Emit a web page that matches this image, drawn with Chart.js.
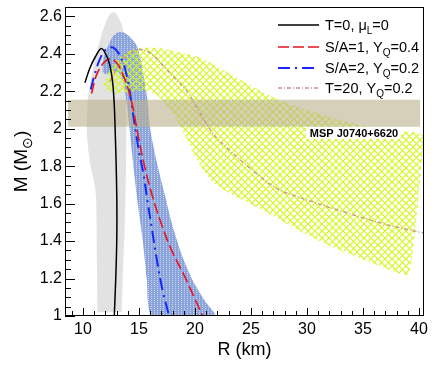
<!DOCTYPE html>
<html>
<head>
<meta charset="utf-8">
<script src="https://cdn.jsdelivr.net/npm/chart.js@4.4.1/dist/chart.umd.min.js"></script>
<style>
  html, body { margin: 0; padding: 0; background: #fff; }
  canvas { display: block; }
</style>
</head>
<body>
<canvas id="mr" width="436" height="372"></canvas>
<script>
// axis ticks
const xTicks = [10, 15, 20, 25, 30, 35, 40];
const yTicks = [1, 1.2, 1.4, 1.6, 1.8, 2, 2.2, 2.4, 2.6];

// M-R curves (R in km, M in Msun)
const t0R = [10.18, 10.6, 11.1, 11.65, 12.1, 12.4, 12.65, 12.8, 12.9, 12.97, 13.03, 13.02, 12.93, 12.8];
const t0M = [2.246, 2.32, 2.383, 2.428, 2.39, 2.34, 2.25, 2.125, 1.95, 1.8, 1.6, 1.4, 1.2, 1.0];

const sa1R = [10.77, 11.2, 11.8, 12.5, 13.1, 13.6, 14.0, 14.35, 14.6, 15.0, 15.5, 16.2, 17.1, 18.0, 19.1, 20.0, 20.7];
const sa1M = [2.188, 2.285, 2.348, 2.374, 2.345, 2.285, 2.22, 2.143, 2.07, 1.94, 1.80, 1.64, 1.475, 1.34, 1.21, 1.09, 1.0];

const sa2R = [10.7, 11.0, 11.5, 12.0, 12.6, 13.1, 13.6, 14.0, 14.3, 14.6, 15.0, 15.4, 15.8, 16.2, 16.6, 17.1, 17.7];
const sa2M = [2.21, 2.28, 2.37, 2.42, 2.435, 2.41, 2.35, 2.26, 2.15, 2.03, 1.88, 1.76, 1.6, 1.45, 1.3, 1.14, 1.0];

const t20R = [12.4, 13.0, 13.9, 14.8, 15.5, 16.3, 17.1, 18.2, 19.3, 20.2, 21.6, 23.0, 24.5, 26.25, 27.6, 30.0, 33.6, 37.0, 40.45];
const t20M = [2.25, 2.32, 2.39, 2.42, 2.42, 2.39, 2.34, 2.27, 2.2, 2.11, 1.975, 1.89, 1.81, 1.725, 1.672, 1.62, 1.55, 1.49, 1.443];

// shaded regions (closed outlines)
const grayR = [11.3, 11.25, 11.2, 11.08, 10.7, 10.48, 10.34, 10.43, 10.63, 10.93, 11.28, 11.7, 12.24, 12.5, 12.71, 12.95, 13.16, 13.5, 13.75, 13.85, 13.87, 13.85, 13.75, 13.55, 13.46];
const grayM = [1.02, 1.3, 1.6, 1.69, 1.796, 1.885, 2.0, 2.152, 2.24, 2.33, 2.419, 2.508, 2.596, 2.617, 2.623, 2.615, 2.596, 2.55, 2.45, 2.3, 2.0, 1.8, 1.5, 1.2, 1.02];

const blueR = [11.75, 11.82, 12.27, 12.7, 13.2, 13.7, 14.2, 14.8, 15.15, 15.4, 15.75, 16.0, 16.6, 17.3, 18.0, 18.8, 19.8, 20.9, 21.8,
  16.15, 15.7, 15.34, 14.9, 14.45, 14.2, 13.95, 13.6, 13.2, 12.6, 12.1];
const blueM = [2.3, 2.374, 2.445, 2.495, 2.516, 2.512, 2.49, 2.445, 2.37, 2.285, 2.16, 2.0, 1.82, 1.65, 1.48, 1.33, 1.19, 1.08, 1.0,
  1.0, 1.2, 1.405, 1.6, 1.83, 1.98, 2.12, 2.25, 2.3, 2.31, 2.29];

const yelR = [11.8, 12.4, 13.0, 13.9, 15.0, 16.9, 18.5, 20.45, 23.5, 26.9, 30.0, 34.0, 37.0, 40.35, 40.1, 39.5, 39.0,
  36.8, 32.3, 29.5, 26.5, 23.1, 21.5, 20.2, 19.4, 18.7, 17.8, 17.0, 16.0, 14.5, 13.0, 12.2];
const yelM = [2.24, 2.31, 2.37, 2.41, 2.43, 2.43, 2.41, 2.38, 2.28, 2.17, 2.10, 2.03, 1.99, 1.965, 1.72, 1.37, 1.22,
  1.26, 1.368, 1.45, 1.55, 1.655, 1.72, 1.83, 1.93, 2.01, 2.1, 2.16, 2.2, 2.2, 2.19, 2.2];

const mspR = [8.66, 40.1, 40.1, 8.66];
const mspM = [2.01, 2.01, 2.155, 2.155];

const FONT = "'Liberation Sans', Arial, Helvetica, sans-serif";

const pts = (xs, ys) => xs.map((x, i) => ({ x: x, y: ys[i] }));

function makePattern(w, h, paint) {
  const c = document.createElement('canvas');
  c.width = w; c.height = h;
  const g = c.getContext('2d');
  paint(g);
  return g.createPattern(c, 'repeat');
}

const bluePat = makePattern(3, 2, g => {
  g.fillStyle = 'rgb(140,164,220)';
  g.fillRect(0, 0, 3, 2);
  g.fillStyle = 'rgb(200,212,240)';
  g.fillRect(1, 0, 1, 1);
});

const yelPat = makePattern(7, 7, g => {
  g.strokeStyle = 'rgb(210,248,30)';
  g.lineWidth = 1.2;
  g.beginPath();
  g.moveTo(-1, -1); g.lineTo(8, 8);
  g.moveTo(8, -1); g.lineTo(-1, 8);
  g.stroke();
});

function region(data, bg, order, tension) {
  return {
    data: data, showLine: true, fill: 'shape', backgroundColor: bg,
    borderColor: 'rgba(0,0,0,0)', borderWidth: 0, pointRadius: 0,
    tension: tension, order: order
  };
}

function curve(data, color, width, dash, order) {
  return {
    data: data, showLine: true, fill: false, borderColor: color,
    borderWidth: width, borderDash: dash, pointRadius: 0,
    tension: 0.35, order: order
  };
}

const lineSets = [
  curve(pts(t0R, t0M), '#000000', 1.5, [], 0),
  curve(pts(sa1R, sa1M), '#e8141e', 1.6, [11, 4], 1),
  curve(pts(sa2R, sa2M), '#1428ff', 2, [12, 5, 2, 5], 2),
  curve(pts(t20R, t20M), '#cc8f8f', 1.3, [4, 2, 1, 2], 3)
];

const legendText = [
  ['T=0, \u03bc', 'L', '=0'],
  ['S/A=1, Y', 'Q', '=0.4'],
  ['S/A=2, Y', 'Q', '=0.2'],
  ['T=20, Y', 'Q', '=0.2']
];

const decor = {
  id: 'decor',
  afterDraw(chart) {
    const ctx = chart.ctx;
    const a = chart.chartArea;
    const xs = chart.scales.x, ys = chart.scales.y;
    ctx.save();

    // label box for the pulsar band
    ctx.fillStyle = '#fff';
    ctx.fillRect(306, 127, 95, 12);
    ctx.fillStyle = '#000';
    ctx.font = 'bold 11px ' + FONT;
    ctx.textAlign = 'center';
    ctx.textBaseline = 'middle';
    ctx.fillText('MSP J0740+6620', 354, 134);

    // frame
    ctx.strokeStyle = '#000';
    ctx.lineWidth = 1;
    ctx.strokeRect(a.left + 0.5, a.top + 0.5, a.right - a.left - 1, a.bottom - a.top - 1);

    // inward ticks
    ctx.beginPath();
    for (let v = 9; v <= 40; v++) {
      const px = Math.round(xs.getPixelForValue(v)) + 0.5;
      const len = v % 5 === 0 ? 8 : 5;
      ctx.moveTo(px, a.bottom); ctx.lineTo(px, a.bottom - len);
    }
    for (let k = 0; k <= 33; k++) {
      const v = 1 + k * 0.05;
      const py = Math.round(ys.getPixelForValue(v)) + 0.5;
      const len = k % 4 === 0 ? 10 : 6;
      ctx.moveTo(a.left, py); ctx.lineTo(a.left + len, py);
    }
    ctx.stroke();

    // x title
    ctx.font = '18px ' + FONT;
    ctx.textAlign = 'center';
    ctx.textBaseline = 'alphabetic';
    ctx.fillText('R (km)', (a.left + a.right) / 2, 355);

    // y title with subscript
    ctx.save();
    ctx.translate(27, (a.top + a.bottom) / 2);
    ctx.rotate(-Math.PI / 2);
    ctx.textAlign = 'left';
    ctx.font = '19px ' + FONT;
    const p1 = 'M (M', p3 = ')';
    const w1 = ctx.measureText(p1).width, w3 = ctx.measureText(p3).width;
    ctx.font = '14px ' + FONT;
    const w2 = ctx.measureText('\u2299').width;
    let x0 = -(w1 + w2 + w3) / 2;
    ctx.font = '19px ' + FONT;
    ctx.fillText(p1, x0, 0);
    ctx.font = '14px ' + FONT;
    ctx.fillText('\u2299', x0 + w1, 5);
    ctx.font = '19px ' + FONT;
    ctx.fillText(p3, x0 + w1 + w2, 0);
    ctx.restore();

    // legend
    const rows = [25, 47, 68, 88];
    lineSets.forEach((ds, i) => {
      const y = rows[i];
      ctx.strokeStyle = ds.borderColor;
      ctx.lineWidth = ds.borderWidth;
      ctx.setLineDash(ds.borderDash);
      ctx.beginPath();
      ctx.moveTo(278, y); ctx.lineTo(319, y);
      ctx.stroke();
      ctx.setLineDash([]);
      const t = legendText[i];
      let x = 325;
      ctx.fillStyle = '#000';
      ctx.textAlign = 'left';
      ctx.font = '14.5px ' + FONT;
      ctx.fillText(t[0], x, y + 5);
      x += ctx.measureText(t[0]).width;
      ctx.font = '10px ' + FONT;
      ctx.fillText(t[1], x, y + 9);
      x += ctx.measureText(t[1]).width;
      ctx.font = '14.5px ' + FONT;
      ctx.fillText(t[2], x, y + 5);
    });
    ctx.restore();
  }
};

const tickFont = { family: FONT, size: 16 };

new Chart(document.getElementById('mr'), {
  type: 'scatter',
  data: {
    datasets: lineSets.concat([
      region(pts(mspR, mspM), 'rgba(186,176,142,0.6)', 5, 0),
      region(pts(yelR, yelM), yelPat, 6, 0.2),
      region(pts(blueR, blueM), bluePat, 7, 0.2),
      region(pts(grayR, grayM), 'rgb(226,226,226)', 8, 0.2)
    ])
  },
  options: {
    responsive: false,
    animation: false,
    layout: { padding: { top: 7, right: 12, left: 0, bottom: 0 } },
    plugins: { legend: { display: false }, tooltip: { enabled: false } },
    scales: {
      x: {
        type: 'linear', min: 8.4, max: 40.45,
        grid: { display: false, drawTicks: false },
        border: { display: false },
        ticks: { font: tickFont, color: '#000', padding: 4, maxRotation: 0 },
        afterBuildTicks: s => { s.ticks = xTicks.map(v => ({ value: v })); },
        afterFit: s => { s.height = 56; s.paddingLeft = 0; s.paddingRight = 0; }
      },
      y: {
        type: 'linear', min: 1, max: 2.65,
        grid: { display: false, drawTicks: false },
        border: { display: false },
        ticks: { font: tickFont, color: '#000', padding: 3, callback: v => String(Math.round(v * 10) / 10) },
        afterBuildTicks: s => { s.ticks = yTicks.map(v => ({ value: v })); },
        afterFit: s => { s.width = 65; s.paddingTop = 0; s.paddingBottom = 0; }
      }
    }
  },
  plugins: [decor]
});
</script>
</body>
</html>
